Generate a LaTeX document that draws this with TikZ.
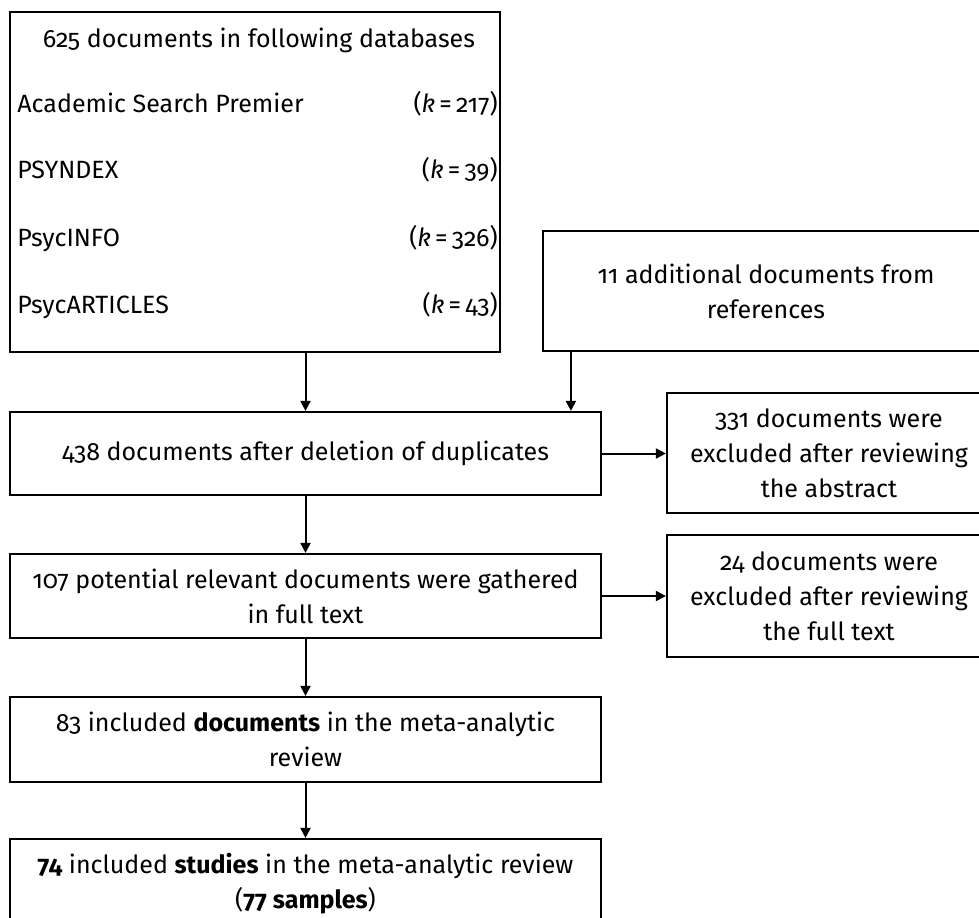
\documentclass[tikz,border=0pt]{standalone}
\usepackage{fontspec}
\setmainfont[Numbers=OldStyle]{Fira Sans}
\usetikzlibrary{arrows.meta}
\tikzset{
  box/.style={draw=black, line width=1.1pt, inner sep=0pt, align=center,
    font=\fontsize{12.5}{17.5}\selectfont},
  lbl/.style={inner sep=0pt, font=\fontsize{12.5}{17.5}\selectfont},
  arr/.style={draw=black, line width=1pt, -{Triangle[length=5pt,width=5pt]}}
}
\begin{document}
\begin{tikzpicture}[x=0.5pt,y=-0.5pt]
\clip (0,0) rectangle (979,917);
\fill[white] (0,0) rectangle (979,917);
% boxes
\node[box, minimum width=245pt, minimum height=170pt] (A) at (255,182) {};
\node[lbl, anchor=base] (A0) at (259,47) {625 documents in following databases};
\node[lbl, anchor=base west] (A1) at (17,112) {Academic Search Premier};
\node[lbl, anchor=base east] (A1k) at (498,112) {(\textit{k}\,=\,217)};
\node[lbl, anchor=base west] (A2) at (17,178) {PSYNDEX};
\node[lbl, anchor=base east] (A2k) at (498,178) {(\textit{k}\,=\,39)};
\node[lbl, anchor=base west] (A3) at (17,246) {PsycINFO};
\node[lbl, anchor=base east] (A3k) at (498,246) {(\textit{k}\,=\,326)};
\node[lbl, anchor=base west] (A4) at (17,313) {PsycARTICLES};
\node[lbl, anchor=base east] (A4k) at (498,313) {(\textit{k}\,=\,43)};

\node[box, minimum width=223pt, minimum height=60pt] (B) at (766,291)
  {11 additional documents from\\references};
\node[box, minimum width=295.5pt, minimum height=41.5pt] (C) at (305.5,453.5)
  {438 documents after deletion of duplicates};
\node[box, minimum width=162pt, minimum height=60pt] (D) at (829,453)
  {331 documents were\\excluded after reviewing\\the abstract};
\node[box, minimum width=295.5pt, minimum height=42pt] (E) at (305.5,596)
  {107 potential relevant documents were gathered\\in full text};
\node[box, minimum width=162pt, minimum height=61pt] (F) at (829,596)
  {24 documents were\\excluded after reviewing\\the full text};
\node[box, minimum width=295.5pt, minimum height=42.5pt] (G) at (305.5,739.5)
  {83 included \textbf{documents} in the meta-analytic\\review};
\node[box, minimum width=295.5pt, minimum height=44.5pt] (H) at (305.5,883.5)
  {\textbf{74} included \textbf{studies} in the meta-analytic review\\(\textbf{77 samples})};
% connectors
\coordinate (Bout) at ([xshift=14.5pt]B.south west);
\draw[arr] (C.north |- A.south) -- (C.north);
\draw[arr] (Bout) -- (Bout |- C.north);
\draw[arr] (C.east) -- (C.east -| D.west);
\draw[arr] (C.south) -- (E.north);
\draw[arr] (E.east) -- (E.east -| F.west);
\draw[arr] (E.south) -- (G.north);
\draw[arr] (G.south) -- (H.north);
\end{tikzpicture}
\end{document}
